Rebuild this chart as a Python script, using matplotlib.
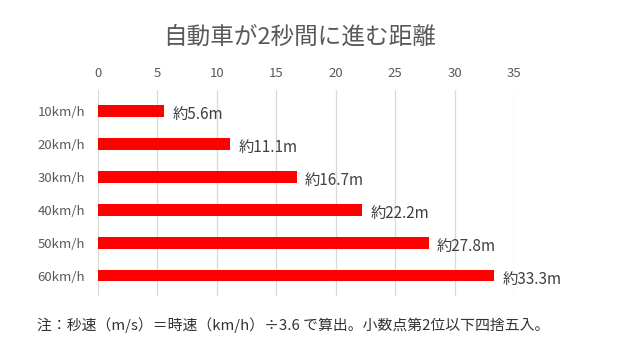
import matplotlib
matplotlib.use("Agg")
from matplotlib import pyplot as plt

plt.rcParams['font.family'] = ['Noto Sans CJK JP', 'DejaVu Sans']

speeds = ['10km/h', '20km/h', '30km/h', '40km/h', '50km/h', '60km/h']
distances = [5.6, 11.1, 16.7, 22.2, 27.8, 33.3]
labels = ['約5.6m', '約11.1m', '約16.7m', '約22.2m', '約27.8m', '約33.3m']

fig = plt.figure(figsize=(6.31, 3.39), dpi=100)
ax = fig.add_axes([0.155, 0.127, 0.66, 0.608])

y = range(len(speeds))
ax.barh(y, distances, height=0.36, color='#FF0000', zorder=3)

for i, (d, t) in enumerate(zip(distances, labels)):
    ax.annotate(t, (d, i), xytext=(6, -2.5), textcoords='offset points',
                va='center', ha='left', fontsize=11, color='#404040')

ax.set_xlim(0, 35)
ax.set_ylim(5.62, -0.64)
ax.set_xticks(range(0, 36, 5))
ax.set_yticks(list(y))
ax.set_yticklabels(speeds)
ax.xaxis.tick_top()
ax.tick_params(axis='both', length=0, labelsize=9.5, colors='#595959')
ax.tick_params(axis='x', pad=7)
ax.tick_params(axis='y', pad=9)
ax.grid(axis='x', color='#D9D9D9', linewidth=0.9, zorder=0)
for s in ax.spines.values():
    s.set_visible(False)

fig.text(0.475, 0.89, '自動車が2秒間に進む距離', ha='center', va='center',
         fontsize=17, color='#595959')
fig.text(0.059, 0.04, '注：秒速（m/s）＝時速（km/h）÷3.6 で算出。小数点第2位以下四捨五入。',
         ha='left', va='center', fontsize=10.7, color='#333333')

plt.savefig('out.png')
